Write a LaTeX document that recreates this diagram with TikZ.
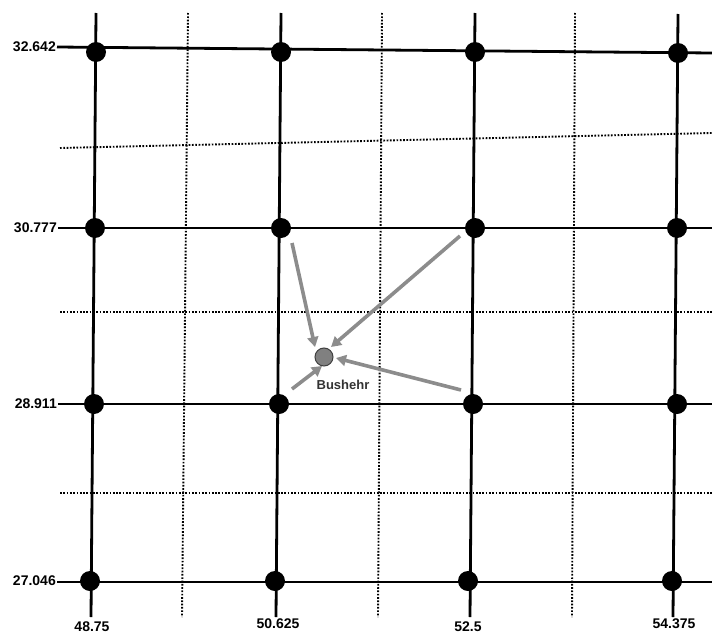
\documentclass[tikz,border=0pt]{standalone}
\usepackage{fontspec}
\setmainfont{Liberation Sans}
\usetikzlibrary{arrows.meta}
\definecolor{arrgray}{RGB}{140,140,140}
\definecolor{ptgray}{RGB}{128,128,128}
\begin{document}
\begin{tikzpicture}[x=1pt,y=-1pt,
  gridline/.style={line width=2.8pt,black},
  dotline/.style={line width=1.9pt,black,dash pattern=on 1.7pt off 1.6pt},
  gdot/.style={circle,fill=black,inner sep=0pt,minimum size=20pt},
  lab/.style={font=\fontsize{14}{16}\selectfont\bfseries,inner sep=0pt},
  arr/.style={line width=3.6pt,arrgray,-{Triangle[length=10pt,width=11pt]}},
  city/.style={circle,fill=ptgray,draw=black!75,line width=1pt,inner sep=0pt,minimum size=18pt}]
\useasboundingbox (0,0) rectangle (712,634);
% dotted guide lines
\coordinate (dv1t) at (188,13); \coordinate (dv1b) at (182,617);
\coordinate (dv2t) at (382,13); \coordinate (dv2b) at (378,617);
\coordinate (dv3t) at (575,13); \coordinate (dv3b) at (572,617);
\coordinate (dh1l) at (60,148); \coordinate (dh1r) at (712,133);
\coordinate (dh2l) at (60,312); \coordinate (dh2r) at (712,312);
\coordinate (dh3l) at (60,493); \coordinate (dh3r) at (712,493);
\foreach \n in {dv1,dv2,dv3} \draw[dotline] (\n t) -- (\n b);
\foreach \n in {dh1,dh2,dh3} \draw[dotline] (\n l) -- (\n r);
% solid grid lines
\coordinate (v1t) at (96,13);  \coordinate (v1b) at (91,617);
\coordinate (v2t) at (281,13); \coordinate (v2b) at (276,617);
\coordinate (v3t) at (475,13); \coordinate (v3b) at (470,617);
\coordinate (v4t) at (678,14); \coordinate (v4b) at (673,617);
\coordinate (h1l) at (57,47);  \coordinate (h1r) at (712,53);
\coordinate (h2l) at (58,228); \coordinate (h2r) at (712,228);
\coordinate (h3l) at (58,404); \coordinate (h3r) at (712,404);
\coordinate (h4l) at (57,582); \coordinate (h4r) at (712,582);
\foreach \n in {v1,v2,v3,v4} \draw[gridline] (\n t) -- (\n b);
\foreach \n in {h1,h2,h3,h4} \draw[gridline] (\n l) -- (\n r);
% grid points
\node[gdot] (p11) at (96,52) {};  \node[gdot] (p12) at (281,52) {};
\node[gdot] (p13) at (475,52) {}; \node[gdot] (p14) at (678,53) {};
\node[gdot] (p21) at (95,228) {}; \node[gdot] (p22) at (281,228) {};
\node[gdot] (p23) at (475,228) {};\node[gdot] (p24) at (677,228) {};
\node[gdot] (p31) at (94,404) {}; \node[gdot] (p32) at (279,404) {};
\node[gdot] (p33) at (473,404) {};\node[gdot] (p34) at (677,404) {};
\node[gdot] (p41) at (90,581) {}; \node[gdot] (p42) at (275,581) {};
\node[gdot] (p43) at (468,581) {};\node[gdot] (p44) at (672,581) {};
% axis labels
\node[lab,anchor=east] (y1) at (56,47) {32.642};
\node[lab,anchor=east] (y2) at (57,228) {30.777};
\node[lab,anchor=east] (y3) at (57,404) {28.911};
\node[lab,anchor=east] (y4) at (56,581) {27.046};
\node[lab] (x1) at (92,627) {48.75};
\node[lab] (x2) at (278,624) {50.625};
\node[lab] (x3) at (468,627) {52.5};
\node[lab] (x4) at (674,624) {54.375};
% Bushehr
\node[city] (bush) at (324,357) {};
\node[font=\fontsize{13}{15}\selectfont\bfseries,text=black!80] (bushlab) at (343,385) {Bushehr};
\coordinate (a1s) at (292,243); \coordinate (a1e) at (315,347);
\coordinate (a2s) at (460,236); \coordinate (a2e) at (331,347);
\coordinate (a3s) at (461,390); \coordinate (a3e) at (336,358);
\coordinate (a4s) at (292,389); \coordinate (a4e) at (322,366);
\draw[arr] (a1s) -- (a1e);
\draw[arr] (a2s) -- (a2e);
\draw[arr] (a3s) -- (a3e);
\draw[arr] (a4s) -- (a4e);
\end{tikzpicture}
\end{document}
